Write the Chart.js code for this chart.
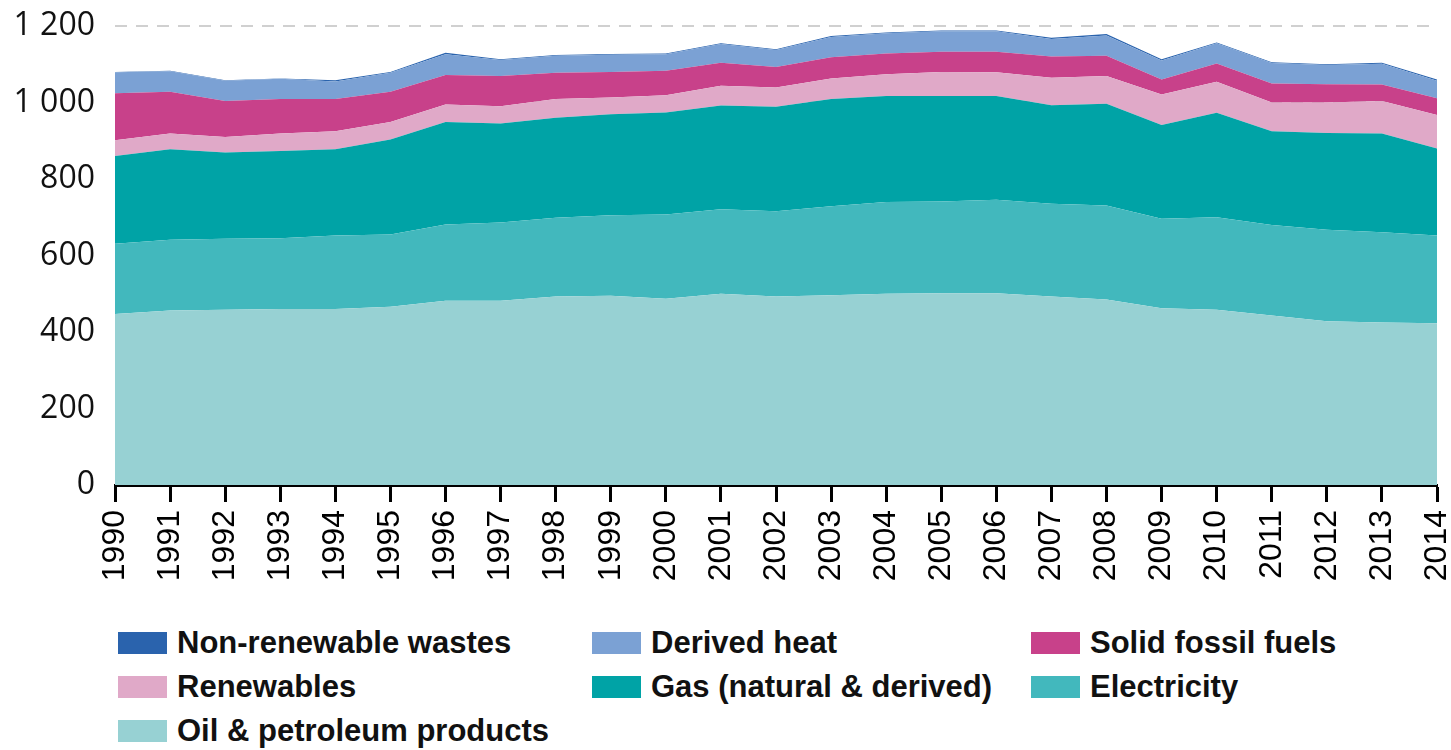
<!DOCTYPE html>
<html>
<head>
<meta charset="utf-8">
<script src="https://cdn.jsdelivr.net/npm/chart.js@4.4.1/dist/chart.umd.min.js"></script>
<style>
  html, body { margin: 0; padding: 0; background: #fff; }
  #wrap { position: relative; width: 1451px; height: 750px; overflow: hidden; }
  #c { position: absolute; left: 0; top: 0; }
  #legend { position: absolute; left: 118px; top: 621px; width: 1330px;
            display: grid; grid-template-columns: 474px 439px 400px; grid-auto-rows: 44px;
            font-family: "Liberation Sans", Arial, sans-serif; font-weight: bold; font-size: 31px; color: #111; }
  .li { display: flex; align-items: center; white-space: nowrap; }
  .sw { width: 49px; height: 22px; margin-right: 10px; flex: none; }
</style>
</head>
<body>
<div id="wrap">
  <canvas id="c" width="1451" height="610"></canvas>
  <div id="legend"></div>
</div>
<script>
const years = ['1990','1991','1992','1993','1994','1995','1996','1997','1998','1999','2000','2001','2002','2003','2004','2005','2006','2007','2008','2009','2010','2011','2012','2013','2014'];
const yTickValues = [0, 200, 400, 600, 800, 1000, 1200];

const oil         = [447,456,458,460,460,466,482,482,493,495,487,500,493,496,500,501,501,493,485,462,458,443,428,425,423];
const electricity = [184,185,186,185,192,189,199,204,206,210,220,221,223,233,240,240,245,242,246,234,242,237,239,236,229];
const gas         = [229,237,225,228,226,248,268,259,261,264,267,271,273,280,277,276,271,258,266,245,273,245,253,258,228];
const renewables  = [41,41,41,46,47,46,46,45,49,44,45,52,50,54,57,63,62,72,72,80,81,75,80,85,87];
const solidFossil = [123,109,94,90,84,79,77,79,69,67,64,60,54,55,54,53,54,55,53,39,48,50,48,43,44];
const derivedHeat = [55,54,53,53,46,50,54,42,44,45,43,49,44,53,53,53,53,46,53,50,53,53,50,54,46];
const nonRenewableWastes = [1,1,1,1,3,2,4,2,2,2,2,2,2,3,2,2,2,3,4,3,2,2,2,3,3];

const seriesNames = ['Oil & petroleum products','Electricity','Gas (natural & derived)','Renewables','Solid fossil fuels','Derived heat','Non-renewable wastes'];
const seriesData = [oil, electricity, gas, renewables, solidFossil, derivedHeat, nonRenewableWastes];
const seriesColors = ['#97d1d3','#42b8bd','#00a3a6','#e0a9c8','#c8418a','#7ba1d4','#2a63ad'];

const datasets = seriesNames.map((name, i) => ({
  label: name,
  data: seriesData[i],
  backgroundColor: seriesColors[i],
  borderColor: seriesColors[i],
  borderWidth: 0,
  pointRadius: 0,
  pointHoverRadius: 0,
  tension: 0,
  fill: i === 0 ? 'origin' : '-1'
}));

const fmt = v => String(v).replace(/\B(?=(\d{3})+(?!\d))/g, ' ');
const zeroPad = s => { s.paddingLeft = 0; s.paddingRight = 0; s.paddingTop = 0; s.paddingBottom = 0; };

const chart = new Chart(document.getElementById('c'), {
  type: 'line',
  data: { labels: years, datasets },
  options: {
    responsive: false,
    animation: false,
    devicePixelRatio: 1,
    layout: { padding: { top: 26, right: 14, left: 0, bottom: 0 } },
    plugins: { legend: { display: false }, tooltip: { enabled: false } },
    scales: {
      x: {
        type: 'category',
        offset: false,
        grid: { drawOnChartArea: false, drawTicks: true, tickLength: 17, tickWidth: 3, tickColor: '#000' },
        border: { display: true, color: '#000', width: 3 },
        ticks: {
          autoSkip: false, minRotation: 90, maxRotation: 90, padding: 8,
          color: '#000', font: { family: '"Liberation Sans", Arial, sans-serif', size: 32 }
        },
        afterFit: s => { s.height = 125; zeroPad(s); }
      },
      y: {
        stacked: true,
        min: 0, max: 1200,
        afterBuildTicks: s => { s.ticks = yTickValues.map(v => ({ value: v })); },
        grid: { color: '#d0d0d0', lineWidth: 2, drawTicks: false },
        border: { display: false, dash: [12, 9] },
        ticks: {
          padding: 20, color: '#111',
          font: { family: '"Open Sans", sans-serif', size: 32 },
          callback: v => fmt(v)
        },
        afterFit: s => { s.width = 115; zeroPad(s); }
      }
    }
  }
});

const legend = document.getElementById('legend');
chart.data.datasets.slice().reverse().forEach(ds => {
  const item = document.createElement('div');
  item.className = 'li';
  const sw = document.createElement('span');
  sw.className = 'sw';
  sw.style.background = ds.backgroundColor;
  const tx = document.createElement('span');
  tx.textContent = ds.label;
  item.appendChild(sw);
  item.appendChild(tx);
  legend.appendChild(item);
});
</script>
</body>
</html>
